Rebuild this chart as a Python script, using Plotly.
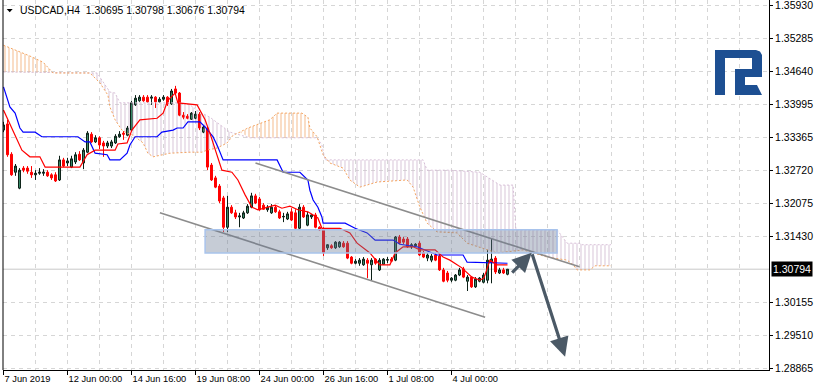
import plotly.graph_objects as go

# ---------------- data ----------------
opens = [1.3350,1.3362,1.3303,1.3268,1.3237,1.3276,1.3276,1.3268,1.3263,1.3266,
         1.3266,1.3268,1.3263,1.3263,1.3253,1.3292,1.3286,1.3278,1.3288,1.3303,
         1.3286,1.3307,1.3342,1.3327,1.3335,1.3325,1.3319,1.3319,1.3325,1.3337,
         1.3344,1.3340,1.3350,1.3399,1.3407,1.3414,1.3414,1.3412,1.3414,1.3405,
         1.3410,1.3414,1.3401,1.3430,1.3422,1.3379,1.3377,1.3371,1.3373,1.3381,
         1.3346,1.3354,1.3282,1.3257,1.3241,1.3218,1.3161,1.3200,1.3189,1.3181,
         1.3179,1.3189,1.3200,1.3222,1.3216,1.3204,1.3195,1.3189,1.3200,1.3191,
         1.3181,1.3177,1.3191,1.3189,1.3159,1.3200,1.3165,1.3181,1.3185,1.3161,
         1.3157,1.3121,1.3125,1.3121,1.3123,1.3130,1.3130,1.3103,1.3091,1.3091,
         1.3088,1.3097,1.3088,1.3099,1.3078,1.3089,1.3097,1.3099,1.3097,1.3142,
         1.3138,1.3138,1.3123,1.3125,1.3130,1.3111,1.3101,1.3097,1.3107,1.3105,
         1.3078,1.3072,1.3058,1.3058,1.3068,1.3080,1.3056,1.3064,1.3045,1.3056,
         1.3054,1.3058,1.3093,1.3101,1.3072,1.3078,1.30695]
highs = [1.3366,1.3370,1.3307,1.3284,1.3276,1.3280,1.3280,1.3280,1.3272,1.3276,
         1.3274,1.3272,1.3266,1.3268,1.3300,1.3296,1.3296,1.3300,1.3307,1.3309,
         1.3315,1.3348,1.3346,1.3340,1.3338,1.3329,1.3329,1.3331,1.3342,1.3348,
         1.3348,1.3358,1.3407,1.3418,1.3418,1.3418,1.3418,1.3418,1.3416,1.3414,
         1.3418,1.3416,1.3430,1.3436,1.3424,1.3385,1.3381,1.3385,1.3387,1.3385,
         1.3360,1.3358,1.3286,1.3261,1.3245,1.3222,1.3222,1.3204,1.3195,1.3189,
         1.3193,1.3206,1.3228,1.3226,1.3220,1.3208,1.3204,1.3206,1.3204,1.3195,
         1.3189,1.3191,1.3198,1.3196,1.3206,1.3204,1.3191,1.3187,1.3189,1.3163,
         1.3161,1.3128,1.3128,1.3134,1.3134,1.3134,1.3134,1.3105,1.3099,1.3101,
         1.3103,1.3101,1.3101,1.3101,1.3101,1.3101,1.3103,1.3103,1.3144,1.3146,
         1.3142,1.3142,1.3130,1.3130,1.3134,1.3115,1.3111,1.3109,1.3111,1.3109,
         1.3082,1.3076,1.3064,1.3070,1.3082,1.3084,1.3068,1.3066,1.3064,1.3064,
         1.3072,1.3117,1.3140,1.3105,1.3082,1.3082,1.30798]
lows = [1.3346,1.3298,1.3261,1.3261,1.3235,1.3268,1.3265,1.3257,1.3253,1.3263,
        1.3261,1.3259,1.3253,1.3249,1.3251,1.3278,1.3280,1.3276,1.3284,1.3290,
        1.3274,1.3305,1.3325,1.3325,1.3313,1.3298,1.3315,1.3315,1.3323,1.3335,
        1.3331,1.3338,1.3348,1.3397,1.3405,1.3405,1.3403,1.3399,1.3393,1.3403,
        1.3407,1.3397,1.3399,1.3420,1.3377,1.3371,1.3371,1.3370,1.3371,1.3350,
        1.3344,1.3272,1.3251,1.3237,1.3208,1.3152,1.3152,1.3187,1.3177,1.3161,
        1.3177,1.3187,1.3198,1.3206,1.3193,1.3195,1.3191,1.3187,1.3189,1.3177,
        1.3171,1.3175,1.3173,1.3157,1.3156,1.3179,1.3163,1.3177,1.3159,1.3154,
        1.3105,1.3117,1.3119,1.3119,1.3121,1.3121,1.3099,1.3089,1.3089,1.3086,
        1.3086,1.3062,1.3058,1.3088,1.3076,1.3088,1.3091,1.3093,1.3095,1.3128,
        1.3128,1.3121,1.3119,1.3123,1.3105,1.3101,1.3095,1.3093,1.3095,1.3076,
        1.3054,1.3054,1.3054,1.3056,1.3066,1.3062,1.3037,1.3043,1.3043,1.3054,
        1.3052,1.3052,1.3052,1.3070,1.3070,1.3070,1.30676]
closes = [1.3360,1.3302,1.3263,1.3280,1.3272,1.3272,1.3270,1.3263,1.3266,1.3268,
          1.3268,1.3261,1.3257,1.3251,1.3292,1.3280,1.3290,1.3294,1.3302,1.3292,
          1.3311,1.3344,1.3327,1.3335,1.3321,1.3319,1.3325,1.3327,1.3338,1.3342,
          1.3342,1.3354,1.3403,1.3412,1.3414,1.3407,1.3405,1.3414,1.3405,1.3410,
          1.3414,1.3401,1.3426,1.3422,1.3379,1.3375,1.3373,1.3383,1.3381,1.3354,
          1.3356,1.3278,1.3253,1.3239,1.3212,1.3161,1.3200,1.3189,1.3181,1.3183,
          1.3189,1.3202,1.3222,1.3208,1.3195,1.3196,1.3200,1.3200,1.3191,1.3179,
          1.3182,1.3187,1.3175,1.3159,1.3200,1.3181,1.3185,1.3185,1.3161,1.3156,
          1.3111,1.3127,1.3121,1.3132,1.3132,1.3123,1.3101,1.3091,1.3095,1.3097,
          1.3099,1.3091,1.3097,1.3091,1.3097,1.3099,1.3098,1.3095,1.3142,1.3130,
          1.3132,1.3123,1.3127,1.3128,1.3107,1.3103,1.3107,1.3105,1.3097,1.3078,
          1.3056,1.3058,1.3062,1.3068,1.3078,1.3064,1.3064,1.3045,1.3060,1.3062,
          1.3068,1.3097,1.3099,1.3074,1.3078,1.3072,1.30794]
bars = list(range(len(opens)))

# Ichimoku lines (bar position, price)
tenkan_bar = [0,2.4,4.6,6.6,9.1,10.4,19.1,20.9,22.9,27.9,28.6,30.9,32.1,34.1,38.4,39.9,41.1,42.9,43.6,
              48.4,50.4,51.6,52.9,54.6,57.1,58.6,60.4,62.1,63.6,65.9,67.9,69.6,71.6,73.6,76.1,78.6,79.6,
              84.1,86.6,88.4,91.6,94.1,96.6,97.9,99.9,102.4,104.1,107.9,109.9,111.6,114.6,117.1,119.1,
              120.1,121.6,123.4,126]
tenkan_val = [1.3389,1.3350,1.3311,1.3298,1.3298,1.3278,1.3278,1.3302,1.3311,1.3311,1.3323,1.3325,1.3350,
              1.3370,1.3373,1.3383,1.3408,1.3422,1.3403,1.3399,1.3370,1.3344,1.3311,1.3272,1.3268,1.3253,
              1.3224,1.3200,1.3195,1.3200,1.3204,1.3198,1.3202,1.3195,1.3191,1.3179,1.3159,1.3159,1.3150,
              1.3130,1.3111,1.3088,1.3088,1.3111,1.3123,1.3123,1.3117,1.3117,1.3103,1.3097,1.3082,1.3064,
              1.3058,1.3062,1.3097,1.3088,1.3088]
kijun_bar = [0,1.6,2.9,4.1,4.9,7.9,9.6,18.6,20.4,21.6,22.9,25.9,26.6,29.1,30.9,31.6,32.9,38.4,39.6,42.4,
             43.4,44.9,46.1,49.1,50.4,51.1,52.4,53.6,54.9,68.4,69.9,74.1,75.4,76.1,76.6,77.4,78.6,79.6,
             79.9,85.4,87.9,90.9,92.9,97.4,99.1,103.4,108.4,114.9,115.9,126]
kijun_val = [1.3434,1.3395,1.3383,1.3354,1.3346,1.3346,1.3337,1.3337,1.3327,1.3327,1.3305,1.3302,1.3292,
             1.3292,1.3305,1.3321,1.3337,1.3337,1.3346,1.3350,1.3354,1.3354,1.3366,1.3366,1.3356,1.3350,
             1.3337,1.3317,1.3292,1.3292,1.3268,1.3268,1.3259,1.3253,1.3233,1.3214,1.3200,1.3181,1.3169,
             1.3169,1.3159,1.3150,1.3136,1.3136,1.3128,1.3123,1.3107,1.3107,1.3093,1.3091]
spanA_bar = [0,2.9,6.6,9.9,12.4,21.6,24.1,26.1,26.6,27.9,29.6,30.9,32.4,34.9,36.1,37.4,41.6,46.6,49.6,
             50.9,53.4,55.9,57.4,59.1,61.1,66.6,68.4,74.6,76.1,76.6,78.4,79.9,81.6,84.9,86.6,89.1,93.4,
             100.9,102.4,104.1,105.9,108.4,113.4,115.9,123.4,129.9,134.1,135.9,140.9,142.4,143.4,146.6,
             147.9,151.9]
spanA_val = [1.3515,1.3506,1.3494,1.3482,1.3461,1.3461,1.3442,1.3418,1.3395,1.3370,1.3350,1.3344,1.3340,
             1.3325,1.3305,1.3298,1.3305,1.3307,1.3307,1.3311,1.3315,1.3325,1.3340,1.3346,1.3354,1.3370,
             1.3383,1.3383,1.3375,1.3354,1.3337,1.3302,1.3286,1.3276,1.3253,1.3239,1.3249,1.3253,1.3239,
             1.3200,1.3169,1.3152,1.3150,1.3130,1.3111,1.3117,1.3107,1.3103,1.3097,1.3088,1.3078,1.3078,
             1.3086,1.3086]
spanB_bar = [0,23.4,26.6,27.9,29.1,44.1,46.6,49.1,51.6,54.9,56.6,61.6,78.4,79.6,80.4,104.9,105.9,111.6,
             119.1,124.1,127.4,128.1,138.4,140.9,144.1,144.6,151.9]
spanB_val = [1.3463,1.3461,1.3424,1.3422,1.3403,1.3403,1.3399,1.3385,1.3375,1.3356,1.3346,1.3335,1.3335,
             1.3321,1.3292,1.3292,1.3272,1.3272,1.3268,1.3243,1.3243,1.3156,1.3156,1.3130,1.3130,1.3127,
             1.3127]
# cloud colouring: which span is on top over each bar range
cloud_ranges = [(0, 12.4, "A"), (12.4, 58.6, "B"), (58.6, 79.5, "A"), (79.5, 152, "B")]

# drawn objects (bar position, price)
channel_upper = ([63, 144], [1.3286, 1.3084])
channel_lower = ([39.1, 120.4], [1.3189, 1.2986])
zone_bars = [50.4, 138.4]
zone_prices = [1.3111, 1.3156]
arrow_up = ([126.8, 132.05], [1.3070, 1.31115])
arrow_down = ([132.05, 140.4], [1.31115, 1.29092])

last_price = 1.30794
ytick_vals = [1.35930, 1.35285, 1.34640, 1.33995, 1.33365, 1.32720, 1.32075, 1.31430,
              1.30155, 1.29510, 1.28865]
xtick_bars = [0, 16, 32, 48, 64, 80, 96, 112]
xtick_text = ["7 Jun 2019", "12 Jun 00:00", "14 Jun 16:00", "19 Jun 08:00", "24 Jun 00:00",
              "26 Jun 16:00", "1 Jul 08:00", "4 Jul 00:00"]
title_text = "USDCAD,H4\u00a0\u00a01.30695 1.30798 1.30676 1.30794"

# ---------------- figure ----------------
W, H = 815, 391
ML, MR, MT, MB = 3, 46, 0, 21
PW, PH = W - ML - MR, H - MT - MB
FONT = "Liberation Sans, Arial, sans-serif"
GRID = "#d6d6d6"

fig = go.Figure()

# cloud hatch
for s, e, top in cloud_ranges:
    a = [(b, v) for b, v in zip(spanA_bar, spanA_val) if s <= b <= e]
    bb = [(b, v) for b, v in zip(spanB_bar, spanB_val) if s <= b <= e]
    xs = [p[0] for p in a] + [p[0] for p in reversed(bb)]
    ys = [p[1] for p in a] + [p[1] for p in reversed(bb)]
    col = "#f2b27c" if top == "A" else "#d3bdd3"
    fig.add_trace(go.Scatter(x=xs, y=ys, mode="lines", line=dict(width=0), fill="toself",
                             fillcolor="rgba(0,0,0,0)",
                             fillpattern=dict(shape="|", size=4, solidity=0.22, fgcolor=col,
                                              bgcolor="rgba(0,0,0,0)", fgopacity=1),
                             hoverinfo="skip", showlegend=False))
fig.add_trace(go.Scatter(x=spanB_bar, y=spanB_val, mode="lines",
                         line=dict(color="#d8bfd8", width=1, dash="2px,2px"), showlegend=False))
fig.add_trace(go.Scatter(x=spanA_bar, y=spanA_val, mode="lines",
                         line=dict(color="#f4a460", width=1, dash="2px,2px"), showlegend=False))

fig.add_trace(go.Candlestick(x=bars, open=opens, high=highs, low=lows, close=closes,
                             increasing=dict(line=dict(color="#0b1f16", width=1), fillcolor="#3b8f6b"),
                             decreasing=dict(line=dict(color="#ff0000", width=1), fillcolor="#ff0000"),
                             whiskerwidth=0, showlegend=False))
fig.add_trace(go.Scatter(x=kijun_bar, y=kijun_val, mode="lines",
                         line=dict(color="#0000ff", width=1.2), showlegend=False))
fig.add_trace(go.Scatter(x=tenkan_bar, y=tenkan_val, mode="lines",
                         line=dict(color="#ff0000", width=1.2), showlegend=False))

# current price line
fig.add_shape(type="line", xref="paper", x0=0, x1=1, yref="y", y0=last_price, y1=last_price,
              line=dict(color="#c8c8c8", width=1), layer="below")
# channel
for xs, ys in (channel_upper, channel_lower):
    fig.add_shape(type="line", x0=xs[0], x1=xs[1], y0=ys[0], y1=ys[1],
                  line=dict(color="#8c8c8c", width=1.6), layer="above")
# zone rectangle
fig.add_shape(type="rect", x0=zone_bars[0], x1=zone_bars[1], y0=zone_prices[0], y1=zone_prices[1],
              fillcolor="rgba(105,120,148,0.38)", line=dict(color="#a8c3ec", width=1.5), layer="above")
# left border
fig.add_shape(type="line", xref="paper", yref="paper", x0=0, x1=0, y0=0, y1=1,
              line=dict(color="black", width=1))

# arrows
for xs, ys in (arrow_up, arrow_down):
    fig.add_annotation(x=xs[1], y=ys[1], ax=xs[0], ay=ys[0], axref="x", ayref="y",
                       showarrow=True, arrowhead=2, arrowsize=1.2, arrowwidth=3.2,
                       arrowcolor="#4b5966", text="")

# logo (pixel-designed decoration)
def px(x):
    return (x - ML) / PW
def py(y):
    return (MT + PH - y) / PH
def path(pts):
    return "M " + " L ".join(f"{px(x):.5f},{py(y):.5f}" for x, y in pts) + " Z"
logo1 = [(715, 95), (715, 50), (756, 50), (760, 51.5), (762, 55), (762, 69), (752, 69), (752, 58),
         (725, 58), (725, 95)]
logo2 = [(735, 69), (762, 69), (762, 77), (745, 77), (745, 85), (757, 85), (762, 95), (735, 95)]
for pts in (logo1, logo2):
    fig.add_shape(type="path", xref="paper", yref="paper", path=path(pts),
                  fillcolor="#1d4f92", line=dict(width=0), layer="above")
# title triangle
fig.add_shape(type="path", xref="paper", yref="paper",
              path=path([(6.7, 9), (12.7, 9), (9.7, 12.3)]),
              fillcolor="black", line=dict(width=0), layer="above")

fig.add_annotation(xref="paper", yref="paper", x=0, y=1, xanchor="left", yanchor="top",
                   xshift=15, yshift=-3, text=title_text, showarrow=False,
                   font=dict(family=FONT, size=10.4, color="black"))
# price label
fig.add_annotation(xref="paper", yref="y", x=1, y=last_price, xanchor="left", xshift=2,
                   text=f"{last_price:.5f}", showarrow=False, bgcolor="black", borderpad=1,
                   font=dict(family=FONT, size=10.5, color="white"))

bar_px = 4.0
x0 = -0.125
fig.update_layout(
    width=W, height=H, margin=dict(l=ML, r=MR, t=MT, b=MB),
    template="none", paper_bgcolor="white", plot_bgcolor="white", showlegend=False,
    xaxis=dict(range=[x0, x0 + PW / bar_px], rangeslider=dict(visible=False),
               tickmode="array", tickvals=xtick_bars, ticktext=xtick_text, tickangle=0,
               ticks="outside", ticklen=4, tickcolor="black", ticklabelposition="outside right",
               ticklabeloverflow="allow",
               showline=True, linecolor="black", linewidth=1, zeroline=False,
               showgrid=True, gridcolor=GRID, griddash="4px,4px", gridwidth=1,
               minor=dict(tickvals=[b + 8 for b in xtick_bars] + [128 + 8 * k for k in range(8)],
                          showgrid=True, gridcolor=GRID, griddash="4px,4px", ticks=""),
               tickfont=dict(family=FONT, size=9.3, color="black"), automargin=False, fixedrange=True),
    yaxis=dict(range=[1.3603 - 0.0001945 * PH, 1.3603], side="right",
               tickmode="array", tickvals=ytick_vals, ticktext=[f"{v:.5f}" for v in ytick_vals],
               ticks="outside", ticklen=3, tickcolor="black", ticklabeloverflow="allow",
               showline=True, linecolor="black", linewidth=1, zeroline=False,
               showgrid=True, gridcolor=GRID, griddash="4px,4px", gridwidth=1,
               tickfont=dict(family=FONT, size=10.5, color="black"), automargin=False, fixedrange=True),
)

fig.write_html("out.html")
